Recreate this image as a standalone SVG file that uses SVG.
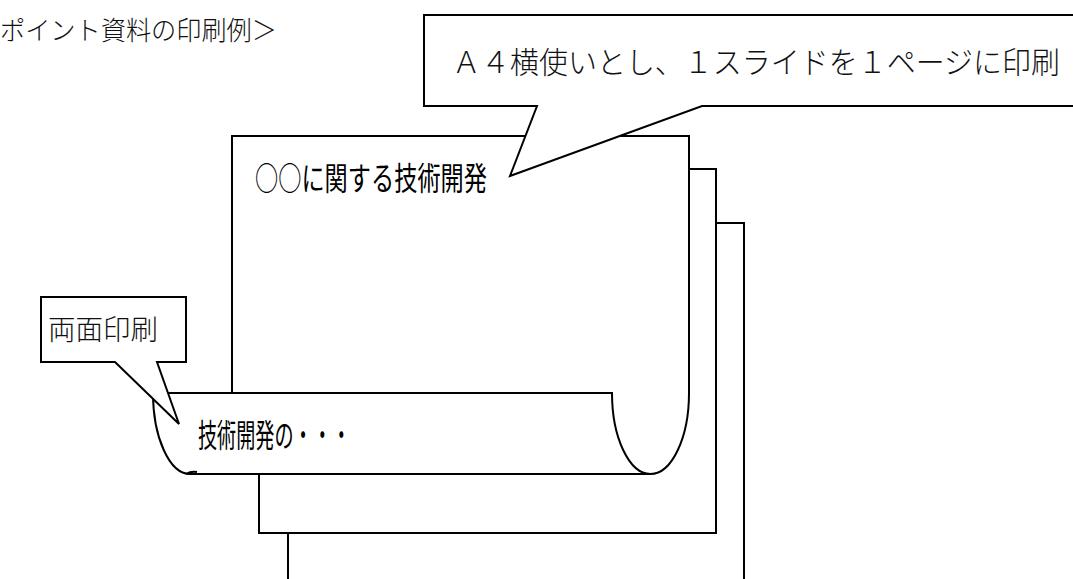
<svg xmlns="http://www.w3.org/2000/svg" width="1073" height="579" viewBox="0 0 1073 579">
<style>
.ln{fill:#fff;stroke:#000;stroke-width:2;stroke-linejoin:miter}
.open{fill:none;stroke:#000;stroke-width:2}
.min{font-family:"Noto Sans CJK JP","Liberation Serif",serif;font-weight:300;fill:#111}
.goth{font-family:"Noto Sans CJK JP","Liberation Sans",sans-serif;font-weight:400;fill:#000}
</style>
<rect width="1073" height="579" fill="#fff"/>
<text id="title" class="min" x="0" y="40" font-size="26" textLength="277" lengthAdjust="spacingAndGlyphs">ポイント資料の印刷例＞</text>
<g id="page3">
<rect class="ln" x="288" y="223" width="456" height="370"/>
</g>
<g id="page2">
<rect class="ln" x="259" y="169" width="457" height="364"/>
</g>
<g id="page1">
<path class="ln" d="M232,393 V136 H689 V393 A38.5,81 0 0 1 650.5,474 H190 A37,81 0 0 1 153,393 Z"/>
<path class="open" d="M153,393 H612 A38.5,81 0 0 0 650.5,474"/>
<path class="open" stroke-width="1.5" d="M186,474 Q191,471 197,472"/>
<text class="goth" x="255" y="190" font-size="32" textLength="232" lengthAdjust="spacingAndGlyphs">○○に関する技術開発</text>
<text class="goth" x="198" y="447" font-size="32" textLength="153" lengthAdjust="spacingAndGlyphs">技術開発の・・・</text>
</g>
<g id="callout-a4">
<path class="ln" d="M424,15 H1075 V106 H702 L510,176 L537,106 H424 Z"/>
<text class="min" x="452" y="73" font-size="30" textLength="608" lengthAdjust="spacingAndGlyphs">Ａ４横使いとし、１スライドを１ページに印刷</text>
</g>
<g id="callout-duplex">
<path class="ln" d="M41,297 H186 V362 H157 L179,424 L115,362 H41 Z"/>
<text class="min" x="48" y="340" font-size="28" textLength="110" lengthAdjust="spacingAndGlyphs">両面印刷</text>
</g>
</svg>
